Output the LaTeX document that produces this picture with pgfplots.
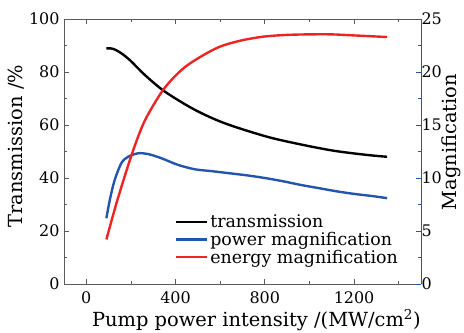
\documentclass[border=0pt]{standalone}
\usepackage{fontspec}
\setmainfont{DejaVu Serif}
\usepackage{pgfplots}
\pgfplotsset{compat=1.18}
\definecolor{myblue}{RGB}{35,85,175}
\definecolor{myred}{RGB}{240,35,35}
\definecolor{frame}{RGB}{90,90,90}
\newcommand{\tfont}{\fontsize{16}{19}\selectfont}
\newcommand{\lfont}{\fontsize{19.5}{23}\selectfont}
\newcommand{\gfont}{\fontsize{17.5}{21}\selectfont}
\begin{document}
\begin{tikzpicture}
\begin{axis}[
  scale only axis, width=357bp, height=265bp,
  xmin=-100, xmax=1500, ymin=0, ymax=100,
  xtick={0,400,800,1200}, minor xtick={200,600,1000,1400},
  ytick={0,20,40,60,80,100}, minor ytick={10,30,50,70,90},
  /pgf/number format/assume math mode=true,
  /pgf/number format/1000 sep={},
  tick align=inside, axis y line*=left, axis x line*=box,
  xtick pos=both, ytick pos=left,
  axis line style={frame, line width=0.9pt},
  tick style={frame, line width=0.7pt},
  major tick length=5bp, minor tick length=3.5bp,
  every tick label/.style={font=\tfont},
  xticklabel style={yshift=-4bp},
  yticklabel style={xshift=-1bp},
  xlabel={Pump power intensity /(MW/cm\textsuperscript{2})},
  ylabel={Transmission /\%},
  xlabel style={font=\lfont, at={(axis description cs:0.539,-0.137)}, anchor=center},
  ylabel style={font=\lfont, at={(axis description cs:-0.133,0.52)}, anchor=center},
]
\addplot[black, line width=2.4pt, smooth] coordinates {
(90,88.9)(110,88.9)(130,88.4)(160,86.9)(200,84.1)(262,78.9)(352,72.6)(487,65.7)(622,60.6)(809,55.6)(959,52.7)(1108,50.3)(1258,48.7)(1348,48.0)};
\end{axis}
\begin{axis}[
  scale only axis, width=357bp, height=265bp,
  xmin=-100, xmax=1500, ymin=0, ymax=25,
  axis x line=none, axis y line*=right,
  ytick={0,5,10,15,20,25}, minor ytick={2.5,7.5,12.5,17.5,22.5},
  /pgf/number format/assume math mode=true,
  tick align=inside,
  y axis line style={myblue, line width=0.9pt},
  ytick style={myblue, line width=0.7pt},
  major tick length=5bp, minor tick length=3.5bp,
  every tick label/.style={font=\tfont},
  yticklabel style={xshift=-3bp},
  ylabel={Magnification},
  ylabel style={font=\lfont, at={(axis description cs:1.085,0.536)}, anchor=center},
  legend style={at={(rel axis cs:0.31,0.065)}, anchor=south west, draw=none, fill=none,
    font=\gfont, row sep=-1bp, inner sep=0pt,
    legend cell align=left},
  legend image code/.code={\draw[#1, line width=2.4pt] (0,0) -- (31bp,0);},
]
\addlegendimage{black, line width=2.4pt}
\addlegendentry{transmission}
\addplot[myblue, line width=2.4pt, smooth] coordinates {
(90,6.2)(105,7.9)(127,9.8)(157,11.4)(187,12.0)(232,12.33)(277,12.26)(337,11.86)(412,11.23)(487,10.82)(560,10.65)(640,10.45)(720,10.25)(800,10.0)(880,9.7)(960,9.35)(1040,9.05)(1120,8.75)(1200,8.5)(1280,8.3)(1348,8.1)};
\addlegendentry{power magnification}
\addplot[myred, line width=2.4pt, smooth] coordinates {
(90,4.2)(139,7.9)(205,12.3)(262,15.4)(344,18.3)(427,20.2)(509,21.4)(600,22.4)(700,23.0)(800,23.35)(900,23.5)(1000,23.55)(1100,23.55)(1200,23.45)(1348,23.3)};
\addlegendentry{energy magnification}
\end{axis}
\pgfresetboundingbox
\useasboundingbox (-64bp,-49bp) rectangle (400bp,284bp);
\end{tikzpicture}
\end{document}
